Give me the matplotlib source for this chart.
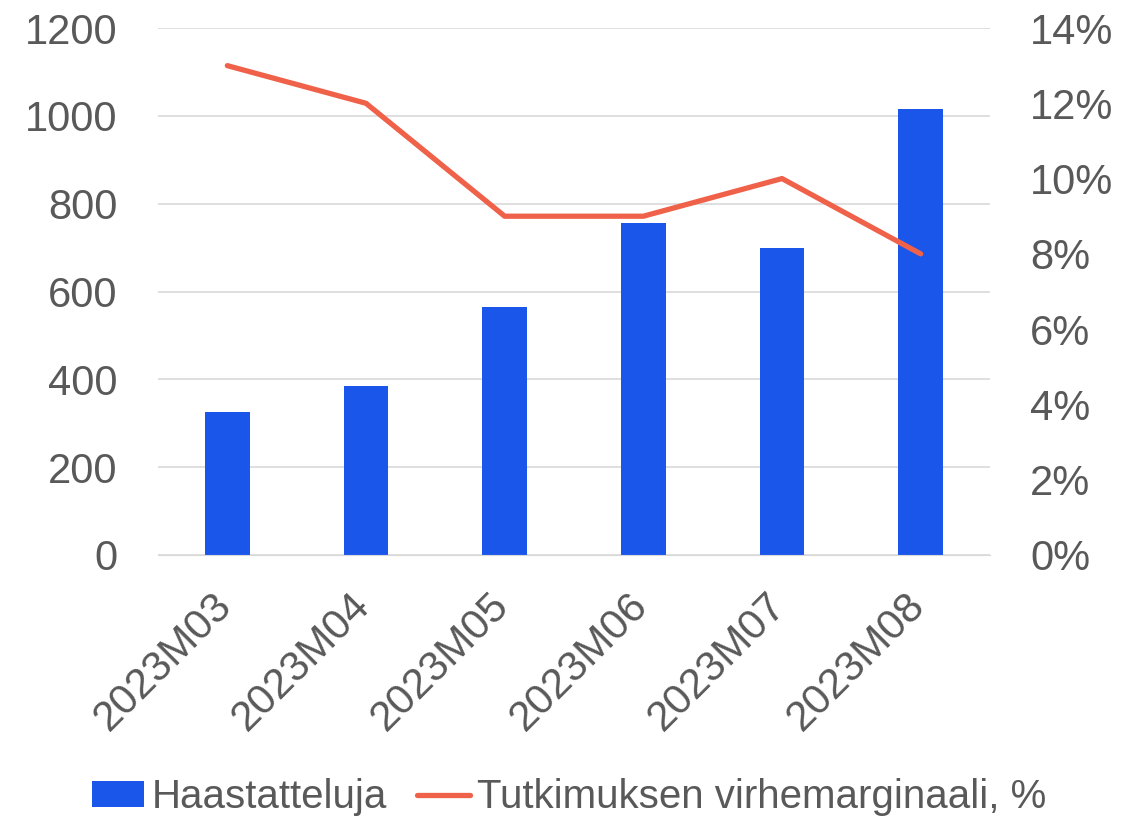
import matplotlib.pyplot as plt
from matplotlib.ticker import FuncFormatter
from matplotlib.transforms import ScaledTranslation
import numpy as np

months = ["2023M03", "2023M04", "2023M05", "2023M06", "2023M07", "2023M08"]
interviews = [325, 385, 565, 755, 698, 1015]
margin = [13, 12, 9, 9, 10, 8]  # %

grey = "#595959"
plt.rcParams['font.family'] = ['Liberation Sans', 'DejaVu Sans']

fig = plt.figure(figsize=(11.35, 8.18), dpi=100)
ax = fig.add_axes([158/1135, 1-555/818, 832/1135, 527/818])
ax2 = ax.twinx()

x = np.arange(len(months))
bars = ax.bar(x, interviews, width=0.32, color="#1A56EA", label="Haastatteluja", zorder=2)
line, = ax2.plot(x, margin, color="#F0614A", lw=3.8, solid_capstyle="round",
                 label="Tutkimuksen virhemarginaali, %", zorder=3)

ax.set_xlim(-0.5, len(months) - 0.5)
ax.set_ylim(0, 1200)
ax.set_yticks(range(0, 1201, 200))
ax2.set_ylim(0, 14)
ax2.set_yticks(range(0, 15, 2))
ax2.yaxis.set_major_formatter(FuncFormatter(lambda v, p: f"{v:.0f}%"))

ax.grid(axis="y", color="#D9D9D9", lw=1.2, zorder=0)
ax.set_axisbelow(True)
for a in (ax, ax2):
    for s in a.spines.values():
        s.set_visible(False)
    a.tick_params(length=0, labelsize=30, labelcolor=grey)
ax.spines["bottom"].set_visible(True)
ax.spines["bottom"].set_color("#D9D9D9")
ax.tick_params(axis="y", pad=29)
ax2.tick_params(axis="y", pad=29)
ax.set_xticks(x)
ax.set_xticklabels(months, rotation=45, ha="right", rotation_mode="anchor", fontsize=30.5)
ax.tick_params(axis="x", pad=22)
shift = ScaledTranslation(-16/100, 0, fig.dpi_scale_trans)
for lab in ax.get_xticklabels():
    lab.set_transform(lab.get_transform() + shift)

fig.legend([bars, line], [bars.get_label(), line.get_label()], loc="center",
           bbox_to_anchor=(569/1135, 1-797/818), ncol=2, frameon=False,
           fontsize=29, labelcolor=grey, handlelength=1.3, handleheight=0.6,
           handletextpad=0.18, columnspacing=0.75)

fig.savefig("out.png", dpi=100)
